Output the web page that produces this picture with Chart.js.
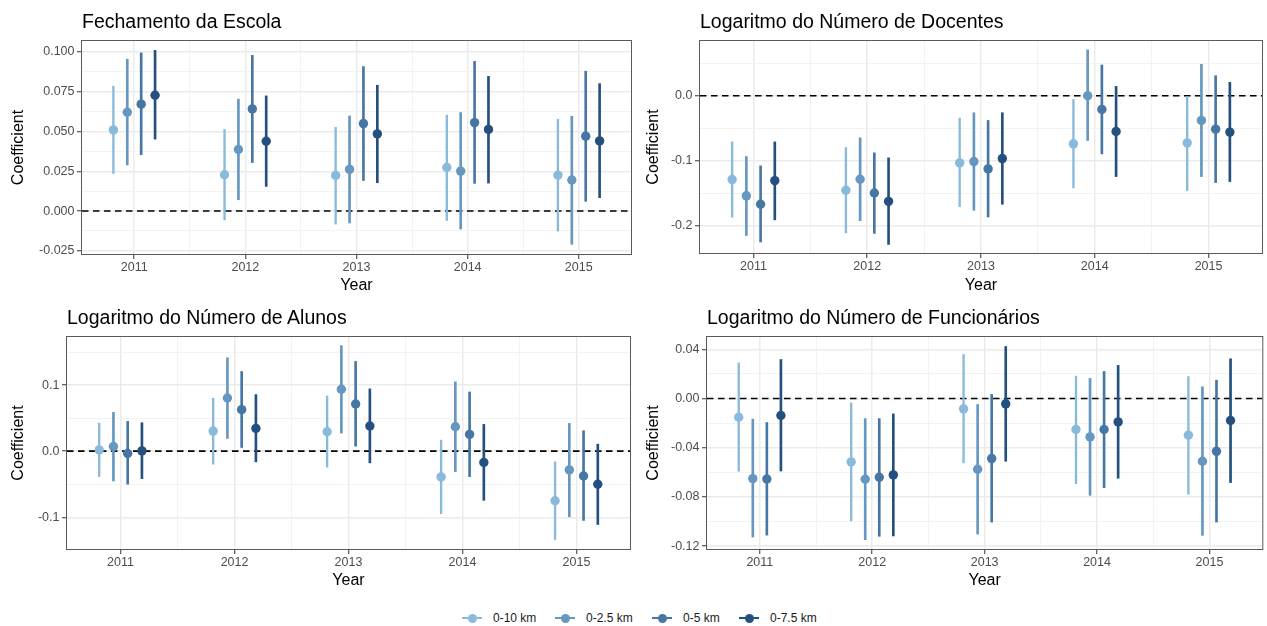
<!DOCTYPE html>
<html>
<head>
<meta charset="utf-8">
<script src="https://cdn.jsdelivr.net/npm/chart.js@4.4.1/dist/chart.umd.min.js"></script>
<style>
  body { margin: 0; background: #fff; width: 1267px; height: 626px; position: relative; overflow: hidden;
         font-family: 'Liberation Sans', Arial, sans-serif; }
  canvas { position: absolute; }
  .ptitle { position: absolute; font-size: 19.5px; line-height: 1; color: #000; white-space: nowrap; }
  .lg-item { position: absolute; top: 610px; height: 16px; display: flex; align-items: center; }
  .lg-sym { position: relative; width: 20px; height: 16px; }
  .lg-sym .ln { position: absolute; left: 0; right: 0; top: 7px; height: 2px; }
  .lg-sym .dot { position: absolute; left: 5.5px; top: 3.5px; width: 9px; height: 9px; border-radius: 50%; }
  .lg-txt { margin-left: 11px; font-size: 12px; color: #1a1a1a; }
</style>
</head>
<body>
<script>
// ─── Data ────────────────────────────────────────────────────────────────────
const YEARS  = [2011, 2012, 2013, 2014, 2015];
const GROUPS = ['0-10 km', '0-2.5 km', '0-5 km', '0-7.5 km'];
const COLORS = ['#89BADB', '#6597C1', '#4677A4', '#24507F'];
const DODGE  = [-0.1875, -0.0625, 0.0625, 0.1875];

const X_TICKS  = YEARS;
const X_LABELS = ['2011', '2012', '2013', '2014', '2015'];
const X_MINOR  = [2011.5, 2012.5, 2013.5, 2014.5];

// Fechamento da Escola (rows = groups, cols = years)
const ESCOLA_EST = [
  [0.0510, 0.0228, 0.0224, 0.0274, 0.0226],
  [0.0621, 0.0387, 0.0262, 0.0251, 0.0195],
  [0.0672, 0.0642, 0.0550, 0.0556, 0.0471],
  [0.0728, 0.0439, 0.0485, 0.0513, 0.0441],
];
const ESCOLA_LO = [
  [0.0236, -0.0056, -0.0082, -0.0059, -0.0126],
  [0.0290, 0.0071, -0.0075, -0.0113, -0.0209],
  [0.0354, 0.0305, 0.0192, 0.0174, 0.0061],
  [0.0452, 0.0155, 0.0178, 0.0176, 0.0084],
];
const ESCOLA_HI = [
  [0.0785, 0.0513, 0.0527, 0.0603, 0.0577],
  [0.0954, 0.0703, 0.0598, 0.0619, 0.0596],
  [0.0994, 0.0979, 0.0908, 0.0941, 0.0879],
  [0.1010, 0.0724, 0.0791, 0.0847, 0.0801],
];
const ESCOLA_YTICKS  = [-0.025, 0, 0.025, 0.05, 0.075, 0.1];
const ESCOLA_YLABELS = ['-0.025', '0.000', '0.025', '0.050', '0.075', '0.100'];
const ESCOLA_YMINOR  = [-0.0125, 0.0125, 0.0375, 0.0625, 0.0875];

// Logaritmo do Número de Docentes
const DOCENTES_EST = [
  [-0.1290, -0.1455, -0.1033, -0.0740, -0.0725],
  [-0.1540, -0.1285, -0.1013, 0.0000, -0.0380],
  [-0.1670, -0.1496, -0.1126, -0.0211, -0.0514],
  [-0.1306, -0.1625, -0.0967, -0.0550, -0.0560],
];
const DOCENTES_LO = [
  [-0.1870, -0.2110, -0.1707, -0.1419, -0.1460],
  [-0.2150, -0.1923, -0.1763, -0.0689, -0.1244],
  [-0.2250, -0.2118, -0.1866, -0.0895, -0.1337],
  [-0.1910, -0.2288, -0.1670, -0.1244, -0.1321],
];
const DOCENTES_HI = [
  [-0.0710, -0.0797, -0.0344, -0.0057, 0.0000],
  [-0.0936, -0.0648, -0.0262, 0.0704, 0.0483],
  [-0.1080, -0.0879, -0.0380, 0.0473, 0.0308],
  [-0.0710, -0.0956, -0.0262, 0.0144, 0.0206],
];
const DOCENTES_YTICKS  = [-0.2, -0.1, 0];
const DOCENTES_YLABELS = ['-0.2', '-0.1', '0.0'];
const DOCENTES_YMINOR  = [-0.15, -0.05, 0.05];

// Logaritmo do Número de Alunos
const ALUNOS_EST = [
  [0.0020, 0.0304, 0.0294, -0.0390, -0.0750],
  [0.0071, 0.0805, 0.0937, 0.0370, -0.0284],
  [-0.0035, 0.0628, 0.0714, 0.0253, -0.0375],
  [0.0005, 0.0344, 0.0380, -0.0172, -0.0501],
];
const ALUNOS_LO = [
  [-0.0385, -0.0197, -0.0243, -0.0947, -0.1337],
  [-0.0450, 0.0192, 0.0273, -0.0309, -0.0992],
  [-0.0500, 0.0056, 0.0076, -0.0385, -0.1048],
  [-0.0415, -0.0162, -0.0177, -0.0744, -0.1109],
];
const ALUNOS_HI = [
  [0.0425, 0.0800, 0.0835, 0.0167, -0.0162],
  [0.0587, 0.1413, 0.1595, 0.1048, 0.0420],
  [0.0450, 0.1205, 0.1357, 0.0896, 0.0309],
  [0.0430, 0.0856, 0.0942, 0.0405, 0.0106],
];
const ALUNOS_YTICKS  = [-0.1, 0, 0.1];
const ALUNOS_YLABELS = ['-0.1', '0.0', '0.1'];
const ALUNOS_YMINOR  = [-0.05, 0.05, 0.15];

// Logaritmo do Número de Funcionários
const FUNC_EST = [
  [-0.0152, -0.0515, -0.0084, -0.0252, -0.0298],
  [-0.0651, -0.0656, -0.0575, -0.0312, -0.0510],
  [-0.0654, -0.0640, -0.0488, -0.0252, -0.0429],
  [-0.0138, -0.0621, -0.0043, -0.0190, -0.0179],
];
const FUNC_LO = [
  [-0.0591, -0.0995, -0.0523, -0.0692, -0.0778],
  [-0.1126, -0.1147, -0.1101, -0.0787, -0.1112],
  [-0.1110, -0.1120, -0.1004, -0.0724, -0.1004],
  [-0.0589, -0.1117, -0.0510, -0.0648, -0.0683],
];
const FUNC_HI = [
  [0.0290, -0.0035, 0.0358, 0.0182, 0.0179],
  [-0.0168, -0.0163, -0.0049, 0.0163, 0.0095],
  [-0.0195, -0.0163, 0.0033, 0.0220, 0.0149],
  [0.0317, -0.0125, 0.0423, 0.0269, 0.0323],
];
const FUNC_YTICKS  = [-0.12, -0.08, -0.04, 0, 0.04];
const FUNC_YLABELS = ['-0.12', '-0.08', '-0.04', '0.00', '0.04'];
const FUNC_YMINOR  = [-0.10, -0.06, -0.02, 0.02];

const ZERO_REF = 0;

// ─── Panel layout (page pixels) ──────────────────────────────────────────────
const PANELS = [
  { title: 'Fechamento da Escola', est: ESCOLA_EST, lo: ESCOLA_LO, hi: ESCOLA_HI,
    yTicks: ESCOLA_YTICKS, yLabels: ESCOLA_YLABELS, yMinor: ESCOLA_YMINOR, yMin: -0.0270, yMax: 0.1069,
    left: 0, top: 0, w: 640, h: 300, padTop: 41, padRight: 9, yW: 82, xH: 46, yTitlePad: 9.4, xTitlePad: 4.9, titleTop: 12 },
  { title: 'Logaritmo do Número de Docentes', est: DOCENTES_EST, lo: DOCENTES_LO, hi: DOCENTES_HI,
    yTicks: DOCENTES_YTICKS, yLabels: DOCENTES_YLABELS, yMinor: DOCENTES_YMINOR, yMin: -0.242, yMax: 0.0842,
    left: 640, top: 0, w: 627, h: 300, padTop: 41, padRight: 5, yW: 60, xH: 47, yTitlePad: 3.6, xTitlePad: 4.9, titleTop: 12 },
  { title: 'Logaritmo do Número de Alunos', est: ALUNOS_EST, lo: ALUNOS_LO, hi: ALUNOS_HI,
    yTicks: ALUNOS_YTICKS, yLabels: ALUNOS_YLABELS, yMinor: ALUNOS_YMINOR, yMin: -0.148, yMax: 0.1727,
    left: 0, top: 300, w: 640, h: 300, padTop: 37, padRight: 10, yW: 67, xH: 51, yTitlePad: 9.4, xTitlePad: 9.7, titleTop: 308 },
  { title: 'Logaritmo do Número de Funcionários', est: FUNC_EST, lo: FUNC_LO, hi: FUNC_HI,
    yTicks: FUNC_YTICKS, yLabels: FUNC_YLABELS, yMinor: FUNC_YMINOR, yMin: -0.1223, yMax: 0.0500,
    left: 640, top: 300, w: 627, h: 300, padTop: 37, padRight: 4, yW: 67, xH: 51, yTitlePad: 3.6, xTitlePad: 9.7, titleTop: 308 },
];
const X_MIN = 2010.53, X_MAX = 2015.47;

Chart.defaults.font.family = "'Liberation Sans', Arial, sans-serif";

// ─── Plugin: dashed zero line + panel border ─────────────────────────────────
const panelDecor = {
  id: 'panelDecor',
  beforeDatasetsDraw(chart) {
    const { ctx, chartArea: a } = chart;
    const yp = chart.scales.y.getPixelForValue(ZERO_REF);
    ctx.save();
    ctx.strokeStyle = '#000'; ctx.lineWidth = 1.6; ctx.setLineDash([6.5, 4.5]);
    ctx.beginPath(); ctx.moveTo(a.left, yp); ctx.lineTo(a.right, yp); ctx.stroke();
    ctx.restore();
  },
  afterDraw(chart) {
    const { ctx, chartArea: a } = chart;
    ctx.save();
    ctx.strokeStyle = '#5a5a5a'; ctx.lineWidth = 1;
    ctx.strokeRect(a.left - 0.5, a.top - 0.5, a.right - a.left + 1, a.bottom - a.top + 1);
    ctx.restore();
  }
};

function gridStyle(major) {
  return {
    color: c => major.includes(c.tick?.value) ? '#EBEBEB' : '#F2F2F2',
    lineWidth: c => major.includes(c.tick?.value) ? 1.5 : 0.9,
    tickColor: c => major.includes(c.tick?.value) ? '#333333' : 'rgba(0,0,0,0)',
    tickLength: 5, tickWidth: 1, drawTicks: true,
  };
}

function makePanel(p) {
  const canvas = document.createElement('canvas');
  canvas.width = p.w; canvas.height = p.h;
  canvas.style.left = p.left + 'px'; canvas.style.top = p.top + 'px';
  canvas.style.width = p.w + 'px'; canvas.style.height = p.h + 'px';
  document.body.appendChild(canvas);

  const t = document.createElement('div');
  t.className = 'ptitle';
  t.textContent = p.title;
  t.style.left = (p.left + p.yW) + 'px';
  t.style.top = p.titleTop + 'px';
  document.body.appendChild(t);

  const datasets = [];
  GROUPS.forEach((g, gi) => {
    datasets.push({
      type: 'scatter', label: g, order: 0, clip: false,
      data: YEARS.map((yr, yi) => ({ x: yr + DODGE[gi], y: p.est[gi][yi] })),
      pointRadius: 4.7, pointHoverRadius: 4.7, pointBackgroundColor: COLORS[gi],
      pointBorderWidth: 0, borderWidth: 0,
    });
    datasets.push({
      type: 'bar', label: g + ' IC', order: 1, clip: false, grouped: false,
      data: YEARS.map((yr, yi) => ({ x: yr + DODGE[gi], y: [p.lo[gi][yi], p.hi[gi][yi]] })),
      backgroundColor: COLORS[gi], barThickness: gi === 0 ? 1.7 : 2, borderWidth: 0,
    });
  });

  const xAll = [...X_TICKS, ...X_MINOR];
  const yAll = [...p.yTicks, ...p.yMinor];

  new Chart(canvas, {
    type: 'scatter',
    data: { datasets },
    options: {
      responsive: false, animation: false, devicePixelRatio: 1,
      layout: { padding: { left: 0, right: p.padRight, top: p.padTop, bottom: 0 } },
      plugins: { legend: { display: false }, tooltip: { enabled: false } },
      scales: {
        x: {
          type: 'linear', min: X_MIN, max: X_MAX, bounds: 'data', offset: false,
          afterFit: s => { s.height = p.xH; },
          afterBuildTicks: s => { s.ticks = xAll.map(v => ({ value: v })); },
          ticks: {
            autoSkip: false, maxRotation: 0, padding: 1, color: '#4D4D4D', font: { size: 12.5 },
            callback: v => { const i = X_TICKS.indexOf(v); return i >= 0 ? X_LABELS[i] : ''; }
          },
          grid: { ...gridStyle(X_TICKS), offset: false },
          border: { display: false },
          title: { display: true, text: 'Year', color: '#000', font: { size: 16 },
                   padding: { top: 0, bottom: p.xTitlePad } }
        },
        y: {
          type: 'linear', min: p.yMin, max: p.yMax, bounds: 'data',
          afterFit: s => { s.width = p.yW; },
          afterBuildTicks: s => { s.ticks = yAll.map(v => ({ value: v })); },
          ticks: {
            autoSkip: false, padding: 2.5, color: '#4D4D4D', font: { size: 12.5 },
            callback: v => { const i = p.yTicks.indexOf(v); return i >= 0 ? p.yLabels[i] : ''; }
          },
          grid: gridStyle(p.yTicks),
          border: { display: false },
          title: { display: true, text: 'Coefficient', color: '#000', font: { size: 16 },
                   padding: { top: p.yTitlePad, bottom: 0 } }
        }
      }
    },
    plugins: [panelDecor]
  });
}

PANELS.forEach(makePanel);

// ─── Legend ──────────────────────────────────────────────────────────────────
const LEGEND_LEFT = [462, 555, 652, 739];
GROUPS.forEach((g, gi) => {
  const item = document.createElement('div');
  item.className = 'lg-item';
  item.style.left = LEGEND_LEFT[gi] + 'px';
  item.innerHTML = `<span class="lg-sym"><span class="ln" style="background:${COLORS[gi]}"></span>` +
    `<span class="dot" style="background:${COLORS[gi]}"></span></span><span class="lg-txt">${g}</span>`;
  document.body.appendChild(item);
});
</script>
</body>
</html>
